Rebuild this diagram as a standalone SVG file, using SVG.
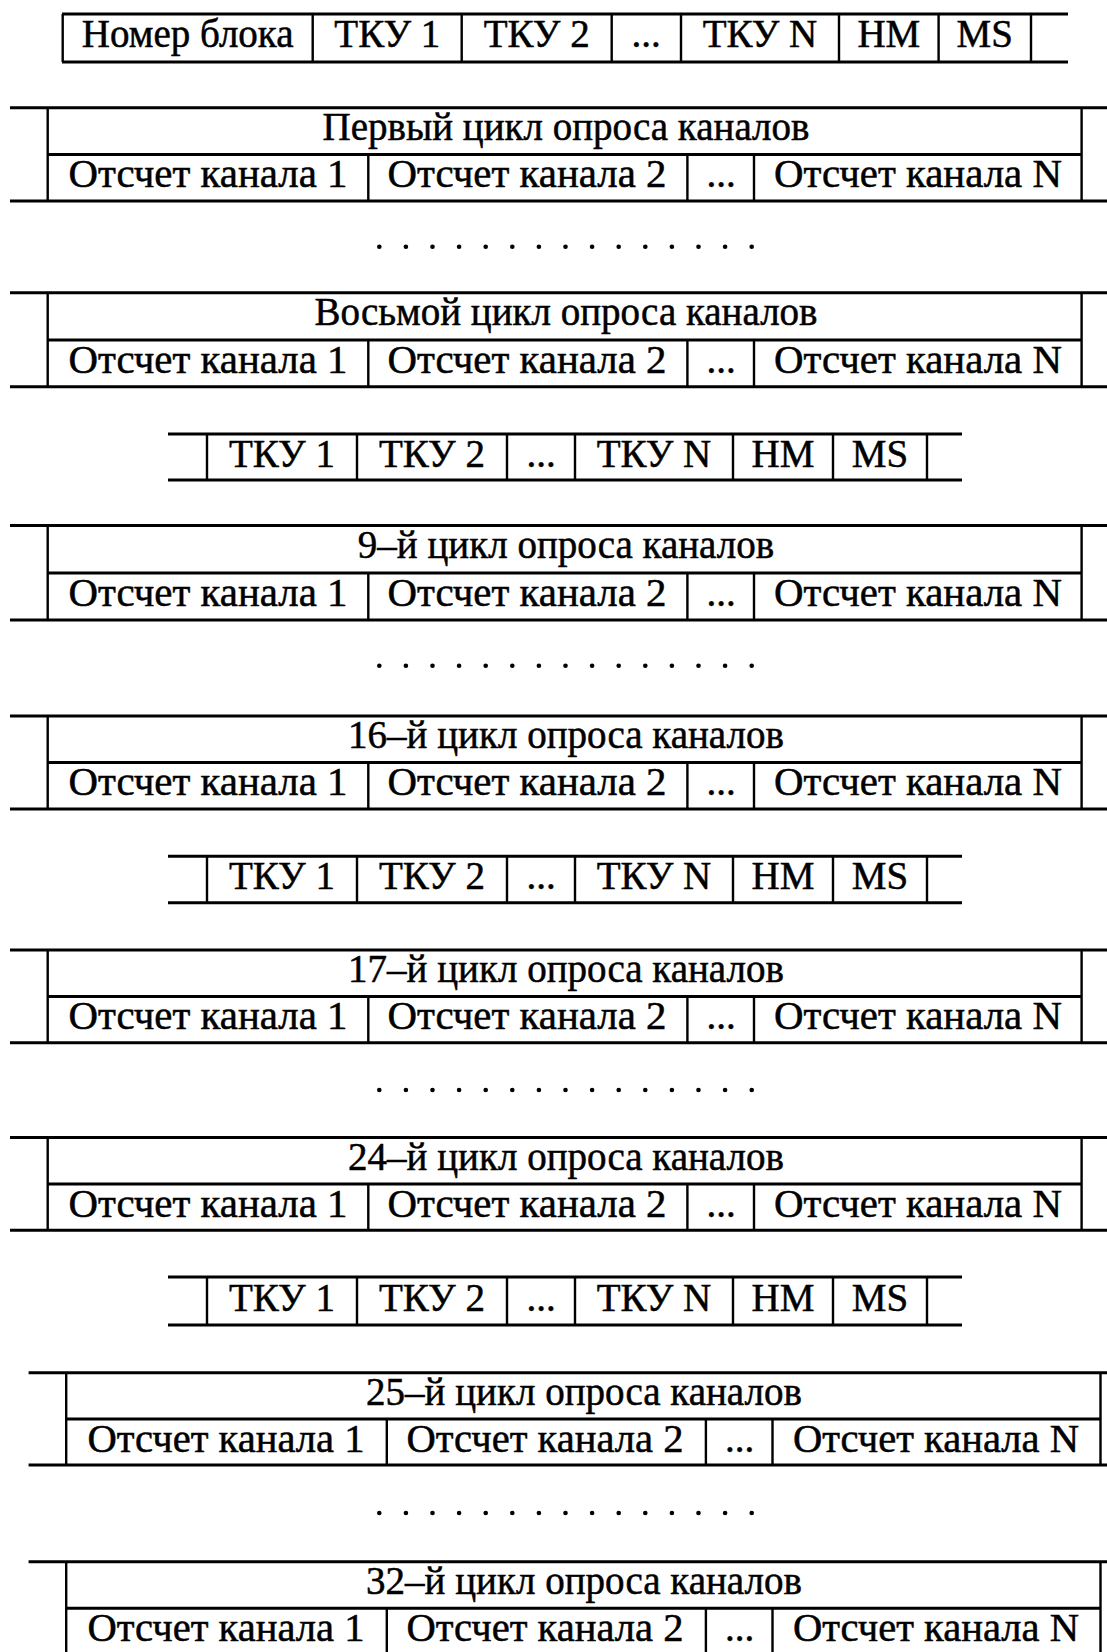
<svg xmlns="http://www.w3.org/2000/svg" width="1107" height="1652" viewBox="0 0 1107 1652">
  <style>
    .h { fill: none; stroke: #000; stroke-width: 3; }
    .v { fill: none; stroke: #000; stroke-width: 2.4; }
    text { font-family: "Liberation Serif", "DejaVu Serif", serif; font-size: 39px; fill: #000; stroke: #000; stroke-width: 0.5; text-anchor: middle; }
    .dot { fill: #000; }
  </style>
  <rect width="1107" height="1652" fill="#fff"/>

  <!-- Block header: number, TKU fields, HM, MS -->
  <g id="header">
    <path class="h" d="M62 14 H1068 M62 62 H1068"/>
    <path class="v" d="M62.7 14 V62 M312.7 14 V62 M461.7 14 V62 M611.7 14 V62 M681 14 V62 M839 14 V62 M938.6 14 V62 M1031 14 V62"/>
    <text x="187.7" y="46.7">Номер блока</text>
    <text x="387.3" y="46.7">ТКУ 1</text>
    <text x="536.7" y="46.7">ТКУ 2</text>
    <text x="646" y="46.7">...</text>
    <text x="760" y="46.7">ТКУ N</text>
    <text x="888.8" y="46.7">HM</text>
    <text x="984.8" y="46.7">MS</text>
  </g>

  <!-- Polling cycle 1 -->
  <g id="cycle-1">
    <path class="h" d="M10 107.7 H1107 M10 201 H1107 M47.7 154.5 H1081.6"/>
    <path class="v" d="M47.7 107.7 V201 M1081.6 107.7 V201 M368.3 154.5 V201 M687.4 154.5 V201 M754 154.5 V201"/>
    <text x="566" y="139.5">Первый цикл опроса каналов</text>
    <text x="208" y="187" textLength="279" lengthAdjust="spacingAndGlyphs">Отсчет канала 1</text>
    <text x="527" y="187" textLength="279" lengthAdjust="spacingAndGlyphs">Отсчет канала 2</text>
    <text x="721" y="187">...</text>
    <text x="918" y="187" textLength="288" lengthAdjust="spacingAndGlyphs">Отсчет канала N</text>
  </g>

  <g id="gap-1">
    <circle class="dot" cx="379.3" cy="246.7" r="2.3"/><circle class="dot" cx="405.9" cy="246.7" r="2.3"/><circle class="dot" cx="432.5" cy="246.7" r="2.3"/><circle class="dot" cx="459.1" cy="246.7" r="2.3"/><circle class="dot" cx="485.7" cy="246.7" r="2.3"/><circle class="dot" cx="512.3" cy="246.7" r="2.3"/><circle class="dot" cx="538.9" cy="246.7" r="2.3"/><circle class="dot" cx="565.5" cy="246.7" r="2.3"/><circle class="dot" cx="592.1" cy="246.7" r="2.3"/><circle class="dot" cx="618.7" cy="246.7" r="2.3"/><circle class="dot" cx="645.3" cy="246.7" r="2.3"/><circle class="dot" cx="671.9" cy="246.7" r="2.3"/><circle class="dot" cx="698.5" cy="246.7" r="2.3"/><circle class="dot" cx="725.1" cy="246.7" r="2.3"/><circle class="dot" cx="751.7" cy="246.7" r="2.3"/>
  </g>

  <!-- Polling cycle 8 -->
  <g id="cycle-8">
    <path class="h" d="M10 292.7 H1107 M10 386.7 H1107 M47.7 340 H1081.6"/>
    <path class="v" d="M47.7 292.7 V386.7 M1081.6 292.7 V386.7 M368.3 340 V386.7 M687.4 340 V386.7 M754 340 V386.7"/>
    <text x="566" y="324.5">Восьмой цикл опроса каналов</text>
    <text x="208" y="372.5" textLength="279" lengthAdjust="spacingAndGlyphs">Отсчет канала 1</text>
    <text x="527" y="372.5" textLength="279" lengthAdjust="spacingAndGlyphs">Отсчет канала 2</text>
    <text x="721" y="372.5">...</text>
    <text x="918" y="372.5" textLength="288" lengthAdjust="spacingAndGlyphs">Отсчет канала N</text>
  </g>

  <!-- Service fields after cycle 8 -->
  <g id="tku-2">
    <path class="h" d="M168 434 H962 M168 480 H962"/>
    <path class="v" d="M207 434 V480 M357 434 V480 M507 434 V480 M575 434 V480 M733 434 V480 M833 434 V480 M927 434 V480"/>
    <text x="282" y="466.5">ТКУ 1</text>
    <text x="432" y="466.5">ТКУ 2</text>
    <text x="541" y="466.5">...</text>
    <text x="654" y="466.5">ТКУ N</text>
    <text x="783" y="466.5">HM</text>
    <text x="880" y="466.5">MS</text>
  </g>

  <!-- Polling cycle 9 -->
  <g id="cycle-9">
    <path class="h" d="M10 525.6 H1107 M10 620 H1107 M47.7 573 H1081.6"/>
    <path class="v" d="M47.7 525.6 V620 M1081.6 525.6 V620 M368.3 573 V620 M687.4 573 V620 M754 573 V620"/>
    <text x="566" y="557.5">9–й цикл опроса каналов</text>
    <text x="208" y="605.5" textLength="279" lengthAdjust="spacingAndGlyphs">Отсчет канала 1</text>
    <text x="527" y="605.5" textLength="279" lengthAdjust="spacingAndGlyphs">Отсчет канала 2</text>
    <text x="721" y="605.5">...</text>
    <text x="918" y="605.5" textLength="288" lengthAdjust="spacingAndGlyphs">Отсчет канала N</text>
  </g>

  <g id="gap-2">
    <circle class="dot" cx="379.3" cy="665.7" r="2.3"/><circle class="dot" cx="405.9" cy="665.7" r="2.3"/><circle class="dot" cx="432.5" cy="665.7" r="2.3"/><circle class="dot" cx="459.1" cy="665.7" r="2.3"/><circle class="dot" cx="485.7" cy="665.7" r="2.3"/><circle class="dot" cx="512.3" cy="665.7" r="2.3"/><circle class="dot" cx="538.9" cy="665.7" r="2.3"/><circle class="dot" cx="565.5" cy="665.7" r="2.3"/><circle class="dot" cx="592.1" cy="665.7" r="2.3"/><circle class="dot" cx="618.7" cy="665.7" r="2.3"/><circle class="dot" cx="645.3" cy="665.7" r="2.3"/><circle class="dot" cx="671.9" cy="665.7" r="2.3"/><circle class="dot" cx="698.5" cy="665.7" r="2.3"/><circle class="dot" cx="725.1" cy="665.7" r="2.3"/><circle class="dot" cx="751.7" cy="665.7" r="2.3"/>
  </g>

  <!-- Polling cycle 16 -->
  <g id="cycle-16">
    <path class="h" d="M10 716 H1107 M10 809 H1107 M47.7 762.5 H1081.6"/>
    <path class="v" d="M47.7 716 V809 M1081.6 716 V809 M368.3 762.5 V809 M687.4 762.5 V809 M754 762.5 V809"/>
    <text x="566" y="748">16–й цикл опроса каналов</text>
    <text x="208" y="795" textLength="279" lengthAdjust="spacingAndGlyphs">Отсчет канала 1</text>
    <text x="527" y="795" textLength="279" lengthAdjust="spacingAndGlyphs">Отсчет канала 2</text>
    <text x="721" y="795">...</text>
    <text x="918" y="795" textLength="288" lengthAdjust="spacingAndGlyphs">Отсчет канала N</text>
  </g>

  <!-- Service fields after cycle 16 -->
  <g id="tku-3">
    <path class="h" d="M168 856.3 H962 M168 902.7 H962"/>
    <path class="v" d="M207 856.3 V902.7 M357 856.3 V902.7 M507 856.3 V902.7 M575 856.3 V902.7 M733 856.3 V902.7 M833 856.3 V902.7 M927 856.3 V902.7"/>
    <text x="282" y="889">ТКУ 1</text>
    <text x="432" y="889">ТКУ 2</text>
    <text x="541" y="889">...</text>
    <text x="654" y="889">ТКУ N</text>
    <text x="783" y="889">HM</text>
    <text x="880" y="889">MS</text>
  </g>

  <!-- Polling cycle 17 -->
  <g id="cycle-17">
    <path class="h" d="M10 950 H1107 M10 1042.8 H1107 M47.7 996.4 H1081.6"/>
    <path class="v" d="M47.7 950 V1042.8 M1081.6 950 V1042.8 M368.3 996.4 V1042.8 M687.4 996.4 V1042.8 M754 996.4 V1042.8"/>
    <text x="566" y="982">17–й цикл опроса каналов</text>
    <text x="208" y="1029" textLength="279" lengthAdjust="spacingAndGlyphs">Отсчет канала 1</text>
    <text x="527" y="1029" textLength="279" lengthAdjust="spacingAndGlyphs">Отсчет канала 2</text>
    <text x="721" y="1029">...</text>
    <text x="918" y="1029" textLength="288" lengthAdjust="spacingAndGlyphs">Отсчет канала N</text>
  </g>

  <g id="gap-3">
    <circle class="dot" cx="379.3" cy="1090" r="2.3"/><circle class="dot" cx="405.9" cy="1090" r="2.3"/><circle class="dot" cx="432.5" cy="1090" r="2.3"/><circle class="dot" cx="459.1" cy="1090" r="2.3"/><circle class="dot" cx="485.7" cy="1090" r="2.3"/><circle class="dot" cx="512.3" cy="1090" r="2.3"/><circle class="dot" cx="538.9" cy="1090" r="2.3"/><circle class="dot" cx="565.5" cy="1090" r="2.3"/><circle class="dot" cx="592.1" cy="1090" r="2.3"/><circle class="dot" cx="618.7" cy="1090" r="2.3"/><circle class="dot" cx="645.3" cy="1090" r="2.3"/><circle class="dot" cx="671.9" cy="1090" r="2.3"/><circle class="dot" cx="698.5" cy="1090" r="2.3"/><circle class="dot" cx="725.1" cy="1090" r="2.3"/><circle class="dot" cx="751.7" cy="1090" r="2.3"/>
  </g>

  <!-- Polling cycle 24 -->
  <g id="cycle-24">
    <path class="h" d="M10 1137.6 H1107 M10 1230.3 H1107 M47.7 1184 H1081.6"/>
    <path class="v" d="M47.7 1137.6 V1230.3 M1081.6 1137.6 V1230.3 M368.3 1184 V1230.3 M687.4 1184 V1230.3 M754 1184 V1230.3"/>
    <text x="566" y="1169.5">24–й цикл опроса каналов</text>
    <text x="208" y="1216.5" textLength="279" lengthAdjust="spacingAndGlyphs">Отсчет канала 1</text>
    <text x="527" y="1216.5" textLength="279" lengthAdjust="spacingAndGlyphs">Отсчет канала 2</text>
    <text x="721" y="1216.5">...</text>
    <text x="918" y="1216.5" textLength="288" lengthAdjust="spacingAndGlyphs">Отсчет канала N</text>
  </g>

  <!-- Service fields after cycle 24 -->
  <g id="tku-4">
    <path class="h" d="M168 1277 H962 M168 1325 H962"/>
    <path class="v" d="M207 1277 V1325 M357 1277 V1325 M507 1277 V1325 M575 1277 V1325 M733 1277 V1325 M833 1277 V1325 M927 1277 V1325"/>
    <text x="282" y="1310.5">ТКУ 1</text>
    <text x="432" y="1310.5">ТКУ 2</text>
    <text x="541" y="1310.5">...</text>
    <text x="654" y="1310.5">ТКУ N</text>
    <text x="783" y="1310.5">HM</text>
    <text x="880" y="1310.5">MS</text>
  </g>

  <!-- Polling cycle 25 -->
  <g id="cycle-25">
    <path class="h" d="M28.6 1372.7 H1107 M28.6 1465 H1107 M66.2 1419 H1100.5"/>
    <path class="v" d="M66.2 1372.7 V1465 M1100.5 1372.7 V1465 M386.8 1419 V1465 M705.9 1419 V1465 M772.5 1419 V1465"/>
    <text x="584" y="1404.5">25–й цикл опроса каналов</text>
    <text x="226" y="1451.5" textLength="277" lengthAdjust="spacingAndGlyphs">Отсчет канала 1</text>
    <text x="545" y="1451.5" textLength="277" lengthAdjust="spacingAndGlyphs">Отсчет канала 2</text>
    <text x="739.5" y="1451.5">...</text>
    <text x="936" y="1451.5" textLength="286" lengthAdjust="spacingAndGlyphs">Отсчет канала N</text>
  </g>

  <g id="gap-4">
    <circle class="dot" cx="379.3" cy="1513" r="2.3"/><circle class="dot" cx="405.9" cy="1513" r="2.3"/><circle class="dot" cx="432.5" cy="1513" r="2.3"/><circle class="dot" cx="459.1" cy="1513" r="2.3"/><circle class="dot" cx="485.7" cy="1513" r="2.3"/><circle class="dot" cx="512.3" cy="1513" r="2.3"/><circle class="dot" cx="538.9" cy="1513" r="2.3"/><circle class="dot" cx="565.5" cy="1513" r="2.3"/><circle class="dot" cx="592.1" cy="1513" r="2.3"/><circle class="dot" cx="618.7" cy="1513" r="2.3"/><circle class="dot" cx="645.3" cy="1513" r="2.3"/><circle class="dot" cx="671.9" cy="1513" r="2.3"/><circle class="dot" cx="698.5" cy="1513" r="2.3"/><circle class="dot" cx="725.1" cy="1513" r="2.3"/><circle class="dot" cx="751.7" cy="1513" r="2.3"/>
  </g>

  <!-- Polling cycle 32 (runs off the bottom edge) -->
  <g id="cycle-32">
    <path class="h" d="M28.6 1561.7 H1107 M66.2 1608.3 H1100.5"/>
    <path class="v" d="M66.2 1561.7 V1652 M1100.5 1561.7 V1652 M386.8 1608.3 V1652 M705.9 1608.3 V1652 M772.5 1608.3 V1652"/>
    <text x="584" y="1593.5">32–й цикл опроса каналов</text>
    <text x="226" y="1641" textLength="277" lengthAdjust="spacingAndGlyphs">Отсчет канала 1</text>
    <text x="545" y="1641" textLength="277" lengthAdjust="spacingAndGlyphs">Отсчет канала 2</text>
    <text x="739.5" y="1641">...</text>
    <text x="936" y="1641" textLength="286" lengthAdjust="spacingAndGlyphs">Отсчет канала N</text>
  </g>
</svg>
